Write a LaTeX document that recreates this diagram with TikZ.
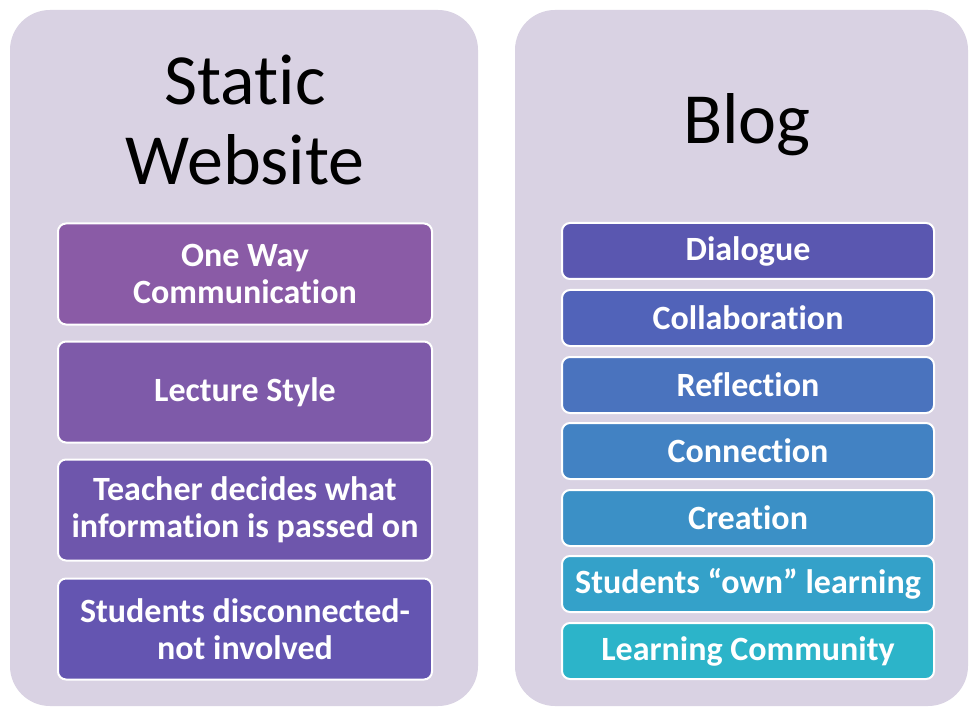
\documentclass[tikz,border=0pt]{standalone}
\usepackage{fontspec}
\setmainfont{Carlito}[Ligatures={NoCommon}]
\definecolor{panelfill}{HTML}{D9D2E3}
\definecolor{lA}{HTML}{8A5BA6}
\definecolor{lB}{HTML}{7E5AA9}
\definecolor{lC}{HTML}{6E56AC}
\definecolor{lD}{HTML}{6455B1}
\definecolor{rA}{HTML}{5A57B0}
\definecolor{rB}{HTML}{5163B9}
\definecolor{rC}{HTML}{4A73BE}
\definecolor{rD}{HTML}{4282C3}
\definecolor{rE}{HTML}{3B90C6}
\definecolor{rF}{HTML}{34A1C9}
\definecolor{rG}{HTML}{2CB4C9}
\begin{document}
\begin{tikzpicture}[x=1pt,y=-1pt,
  panel/.style={fill=panelfill, draw=none, rounded corners=40pt},
  itembox/.style={draw=white, line width=2pt, rounded corners=8pt, text=white,
    font=\fontsize{34}{37}\selectfont\bfseries, align=center, inner sep=0pt},
  title/.style={font=\fontsize{72}{80}\selectfont, align=center, text=black}]
\useasboundingbox (0,0) rectangle (969,711);
\fill[white] (0,0) rectangle (969,711);
\fill[panel] (10,10) rectangle (478,706);
\fill[panel] (515,10) rectangle (968,706);
\node[title] (t1) at (245,120) {Static\\Website};
\node[title] (t2) at (747,125) {Blog};
% left boxes
\node[itembox, fill=lA, minimum width=374pt, minimum height=101pt] (l1) at (245,274) {One Way\\Communication};
\node[itembox, fill=lB, minimum width=374pt, minimum height=101pt] (l2) at (245,392) {Lecture Style};
\node[itembox, fill=lC, minimum width=374pt, minimum height=101pt] (l3) at (245,510) {Teacher decides what\\information is passed on};
\node[itembox, fill=lD, minimum width=374pt, minimum height=101pt] (l4) at (245,629) {Students disconnected-\\not involved};
% right boxes
\node[itembox, fill=rA, minimum width=372pt, minimum height=56pt] (r1) at (748,251) {Dialogue};
\node[itembox, fill=rB, minimum width=372pt, minimum height=56pt] (r2) at (748,318) {Collaboration};
\node[itembox, fill=rC, minimum width=372pt, minimum height=56pt] (r3) at (748,385) {Reflection};
\node[itembox, fill=rD, minimum width=372pt, minimum height=56pt] (r4) at (748,451) {Connection};
\node[itembox, fill=rE, minimum width=372pt, minimum height=56pt] (r5) at (748,518) {Creation};
\node[itembox, fill=rF, minimum width=372pt, minimum height=56pt] (r6) at (748,584) {Students “own” learning};
\node[itembox, fill=rG, minimum width=372pt, minimum height=56pt] (r7) at (748,651) {Learning Community};
\end{tikzpicture}
\end{document}
